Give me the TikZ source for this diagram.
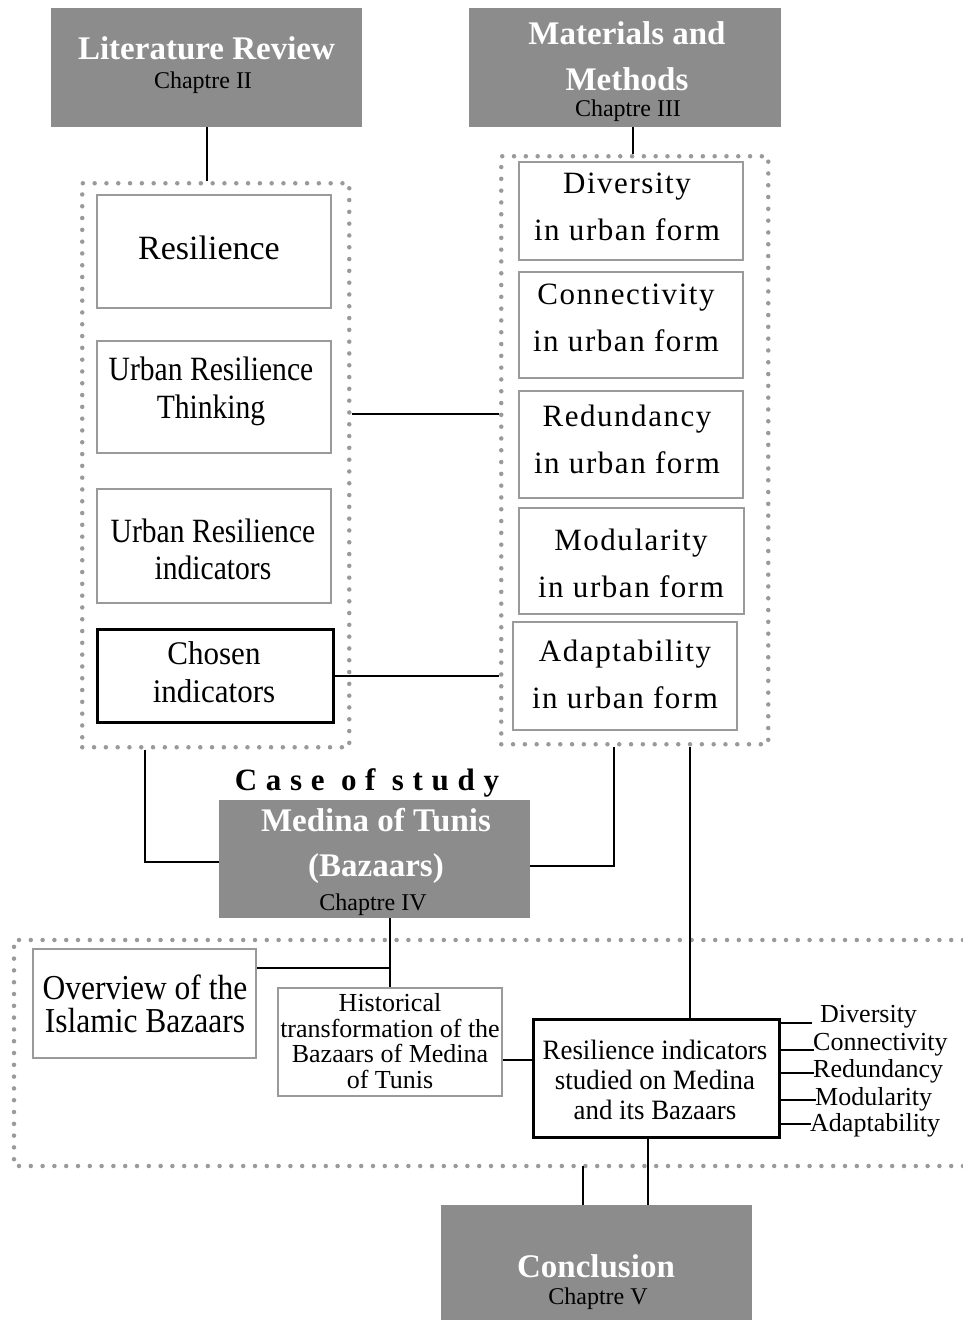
\documentclass[tikz,border=0pt]{standalone}
\usepackage{fontspec}
\defaultfontfeatures{Extension=.ttf, UprightFont=*-Regular, BoldFont=*-Bold, ItalicFont=*-Italic, BoldItalicFont=*-BoldItalic}
\setmainfont{LiberationSerif}
\newfontfamily\spacedfont{LiberationSerif}[LetterSpace=28]
\newfontfamily\lsfont{LiberationSerif}[LetterSpace=5]
\newfontfamily\stA{LiberationSerif}[FakeStretch=0.87]
\newfontfamily\stB{LiberationSerif}[FakeStretch=0.90]
\newfontfamily\stC{LiberationSerif}[FakeStretch=0.94]
\newfontfamily\stD{LiberationSerif}[FakeStretch=0.96]
\usetikzlibrary{calc}
\definecolor{hdr}{HTML}{8C8C8C}
\definecolor{bord}{HTML}{9A9A9A}
\definecolor{dotc}{HTML}{9A9A9A}
\newcommand{\fs}[2]{\fontsize{#1}{#2}\selectfont}
\begin{document}
\begin{tikzpicture}[x=1pt,y=-1pt,
 hbox/.style={fill=hdr, draw=none, anchor=north west, inner sep=0},
 htitle/.style={text=white, font=\fs{33}{46}\bfseries, align=center, inner sep=0},
 hsub/.style={font=\fs{24}{26}, inner sep=0},
 gbox/.style={draw=bord, line width=2pt, anchor=north west, inner sep=0},
 kbox/.style={draw=black, line width=2.5pt, anchor=north west, inner sep=0},
 txt/.style={inner sep=0, align=center},
 ltxt/.style={txt, font=\stA\fs{34}{38}},
 rtxt/.style={txt, font=\lsfont\fs{31}{47}},
 dotbox/.style={draw=dotc, line width=4.5pt, line cap=round, dash pattern=on 0pt off 11.8pt, anchor=north west, inner sep=0},
 dotline/.style={draw=dotc, line width=4.5pt, line cap=round, dash pattern=on 0pt off 11.8pt},
 conn/.style={draw=black, line width=2pt},
 lab/.style={font=\fs{26}{26}, anchor=base west, inner sep=0},
]
\useasboundingbox (0,0) rectangle (963,1320);
\fill[white] (0,0) rectangle (963,1320);

% header boxes
\node[hbox, minimum width=311, minimum height=119] (lr) at (51,8) {};
\node[htitle] (lrt) at (206.5,48) {Literature Review};
\node[hsub] (lrs) at (203,83) {Chaptre II};

\node[hbox, minimum width=312, minimum height=119] (mm) at (469,8) {};
\node[htitle] (mmt) at (627,56) {Materials and\\Methods};
\node[hsub] (mms) at (628,111) {Chaptre III};

% left container
\node[dotbox, minimum width=267, minimum height=564] (lc) at (80,181) {};
\node[gbox, minimum width=234, minimum height=113] (res) at (96,194) {};
\node[txt, font=\fs{34}{38}] (rest) at (209,248) {Resilience};
\node[gbox, minimum width=234, minimum height=112] (urt) at (96,340) {};
\node[ltxt] (urtt) at (211,391) {Urban Resilience\\Thinking};
\node[gbox, minimum width=234, minimum height=114] (uri) at (96,488) {};
\node[ltxt, font=\stA\fs{34}{37}] (urit) at (213,549) {Urban Resilience\\indicators};
\node[kbox, minimum width=236, minimum height=93] (ci) at (96,628) {};
\node[txt, font=\stC\fs{33}{38}] (cit) at (214,672) {Chosen\\indicators};

% right container
\node[dotbox, minimum width=267, minimum height=588] (rc) at (499,154) {};
\node[gbox, minimum width=224, minimum height=98] (div) at (518,161) {};
\node[rtxt] (divt) at (627,207) {Diversity\\in urban form};
\node[gbox, minimum width=224, minimum height=106] (con) at (518,271) {};
\node[rtxt] (cont) at (626,318) {Connectivity\\in urban form};
\node[gbox, minimum width=224, minimum height=107] (red) at (518,390) {};
\node[rtxt] (redt) at (627,439.5) {Redundancy\\in urban form};
\node[gbox, minimum width=225, minimum height=106] (mod) at (518,507) {};
\node[rtxt] (modt) at (631,563) {Modularity\\in urban form};
\node[gbox, minimum width=224, minimum height=108] (ada) at (512,621) {};
\node[rtxt] (adat) at (625,674.5) {Adaptability\\in urban form};

% case of study
\node[font=\fs{31}{31}\spacedfont\bfseries, inner sep=0] (cos) at (367,783) {Case of study};
\node[hbox, minimum width=311, minimum height=118] (med) at (219,800) {};
\node[htitle, font=\fs{33}{45}\bfseries] (medt) at (376,846) {Medina of Tunis\\(Bazaars)};
\node[hsub] (meds) at (373,905) {Chaptre IV};

% bottom container
\coordinate (bc1) at (963,940);
\coordinate (bc2) at (14,940);
\coordinate (bc3) at (14,1166);
\coordinate (bc4) at (963,1166);
\draw[dotline] (bc1) -- (bc2) -- (bc3) -- (bc4);

\node[gbox, minimum width=223, minimum height=109] (ov) at (32,948) {};
\node[txt, font=\stB\fs{35}{33}] (ovt) at (145,1004) {Overview of the\\Islamic Bazaars};
\node[gbox, minimum width=224, minimum height=108] (hist) at (277,987) {};
\node[txt, font=\fs{26}{25.5}] (histt) at (390,1041) {Historical\\transformation of the\\Bazaars of Medina\\of Tunis};
\node[kbox, minimum width=246, minimum height=118] (rind) at (532,1018) {};
\node[txt, font=\stD\fs{28}{30}] (rindt) at (655,1080) {Resilience indicators\\studied on Medina\\and its Bazaars};

\node[lab] (l1) at (820,1022) {Diversity};
\node[lab] (l2) at (813,1050) {Connectivity};
\node[lab] (l3) at (813,1077) {Redundancy};
\node[lab] (l4) at (815,1105) {Modularity};
\node[lab] (l5) at (810,1131) {Adaptability};
\coordinate (e1) at (812,1023);
\coordinate (e2) at (814,1050);
\coordinate (e3) at (814,1073);
\coordinate (e4) at (816,1100);
\coordinate (e5) at (811,1124);

% conclusion
\node[hbox, minimum width=311, minimum height=130] (conc) at (441,1205) {};
\node[htitle] (conct) at (596,1266) {Conclusion};
\node[hsub] (concs) at (598,1299) {Chaptre V};

% connectors
\draw[conn] (lr.south) -- (lr.south |- lc.north);
\coordinate (mmb) at ($(mm.south)+(8,0)$);
\draw[conn] (mmb) -- (mmb |- rc.north);
\draw[conn] ([yshift=-17pt]urt.east -| lc.east) -- ([yshift=-17pt]urt.east -| rc.west);
\draw[conn] (ci.east) -- (ci.east -| rc.west);
\coordinate (lcb) at ($(lc.south west)+(65,0)$);
\draw[conn] (lcb) |- ([yshift=-3pt]med.west);
\coordinate (rcb) at ($(rc.south west)+(115,0)$);
\draw[conn] (rcb) |- ([yshift=-7pt]med.east);
\coordinate (rcA) at ($(rc.south west)+(191,0)$);
\draw[conn] (rcA) -- (rcA |- rind.north);
\coordinate (mb) at ($(med.south)+(15,0)$);
\draw[conn] (mb) -- (mb |- hist.north);
\draw[conn] ([yshift=-20pt]ov.north east) -| (mb);
\draw[conn] ([yshift=-18pt]hist.east) -- ([yshift=-18pt]hist.east -| rind.west);
\foreach \e in {e1,e2,e3,e4,e5} {\draw[conn] (rind.east |- \e) -- (\e);}
\coordinate (rb) at ($(rind.south)+(-8,0)$);
\draw[conn] (rb) -- (rb |- conc.north);
\coordinate (bd) at (583,1166);
\draw[conn] (bd) -- (bd |- conc.north);
\end{tikzpicture}
\end{document}
